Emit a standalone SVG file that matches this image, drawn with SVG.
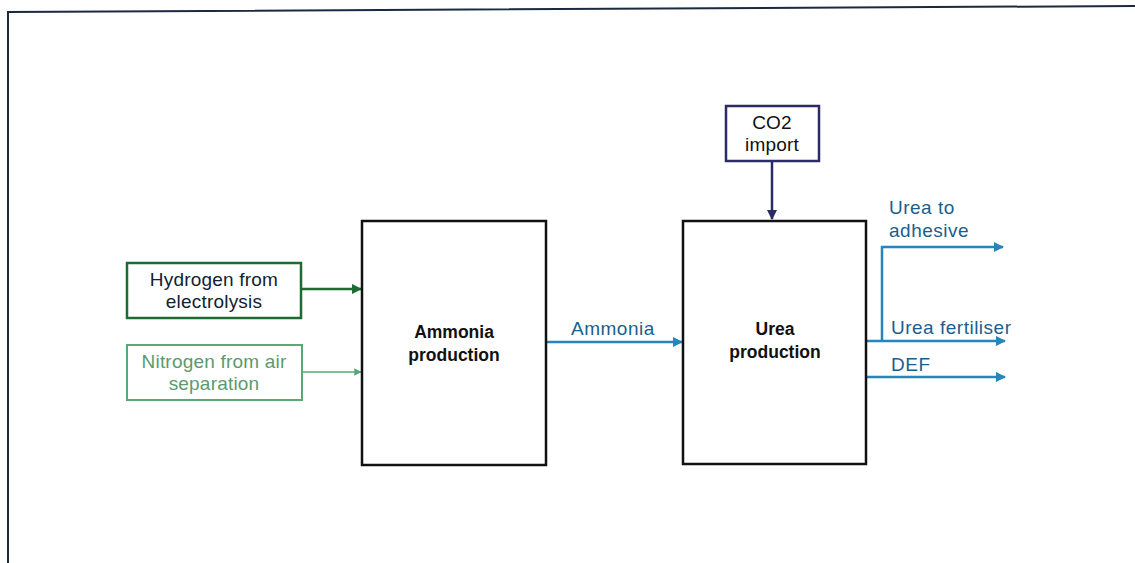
<svg xmlns="http://www.w3.org/2000/svg" width="1135" height="563" viewBox="0 0 1135 563">
<style>
text{font-family:"Liberation Sans",Arial,sans-serif;font-size:19px;text-anchor:middle;letter-spacing:0.2px}
.bold{font-weight:bold;font-size:17.5px;fill:#111;letter-spacing:0}
.lbl{fill:#1b5e8c;text-anchor:start;letter-spacing:0.5px}
.proc{fill:#fff;stroke:#111;stroke-width:2.5}
.blue{stroke:#2585bd;stroke-width:2.5;fill:none}
</style>
<defs>
<marker id="ab" viewBox="0 0 10 10" refX="9" refY="5" markerWidth="4" markerHeight="4" orient="auto"><path d="M0,0L10,5L0,10z" fill="#2585bd"/></marker>
<marker id="ag" viewBox="0 0 10 10" refX="9" refY="5" markerWidth="4" markerHeight="4" orient="auto"><path d="M0,0L10,5L0,10z" fill="#1d6b33"/></marker>
<marker id="al" viewBox="0 0 10 10" refX="9" refY="5" markerWidth="5" markerHeight="5" orient="auto"><path d="M0,0L10,5L0,10z" fill="#5aa878"/></marker>
<marker id="an" viewBox="0 0 10 10" refX="9" refY="5" markerWidth="4" markerHeight="4" orient="auto"><path d="M0,0L10,5L0,10z" fill="#2b2b66"/></marker>
</defs>
<rect width="1135" height="563" fill="#fff"/>
<g id="frame" fill="none" stroke="#1a2a40" stroke-width="2"><path d="M8,563V12L1135,6"/></g>
<g id="connectors">
<line x1="301" y1="289" x2="361" y2="289" stroke="#1d6b33" stroke-width="2.5" marker-end="url(#ag)"/>
<line x1="302" y1="372" x2="361" y2="372" stroke="#5aa878" stroke-width="1.5" marker-end="url(#al)"/>
<line x1="546" y1="342" x2="682" y2="342" class="blue" marker-end="url(#ab)"/>
<line x1="772" y1="161" x2="772" y2="219" stroke="#2b2b66" stroke-width="2.5" marker-end="url(#an)"/>
<line x1="866" y1="341" x2="1005" y2="341" class="blue" marker-end="url(#ab)"/>
<polyline points="882,341 882,247 1003,247" class="blue" marker-end="url(#ab)"/>
<line x1="866" y1="377" x2="1005" y2="377" class="blue" marker-end="url(#ab)"/>
<text class="lbl" x="571" y="335">Ammonia</text>
<text class="lbl" x="889" y="214">Urea to</text>
<text class="lbl" x="889" y="237">adhesive</text>
<text class="lbl" x="891" y="334">Urea fertiliser</text>
<text class="lbl" x="891" y="371">DEF</text>
</g>
<g id="hydrogen"><rect x="127" y="263" width="174" height="55" fill="#fff" stroke="#1d6b33" stroke-width="2.5"/><text x="214" y="286" fill="#123">Hydrogen from</text><text x="214" y="308" fill="#123">electrolysis</text></g>
<g id="nitrogen"><rect x="127" y="345" width="175" height="55" fill="#fff" stroke="#5aa878" stroke-width="2"/><text x="214" y="368" fill="#5a9a70">Nitrogen from air</text><text x="214" y="390" fill="#5a9a70">separation</text></g>
<g id="ammonia"><rect x="362" y="221" width="184" height="244" class="proc"/><text class="bold" x="454" y="338">Ammonia</text><text class="bold" x="454" y="361">production</text></g>
<g id="urea"><rect x="683" y="221" width="183" height="243" class="proc"/><text class="bold" x="775" y="335">Urea</text><text class="bold" x="775" y="358">production</text></g>
<g id="co2"><rect x="726" y="106" width="93" height="55" fill="#fff" stroke="#2b2b66" stroke-width="2.5"/><text x="772" y="129" fill="#111">CO2</text><text x="772" y="151" fill="#111">import</text></g>
</svg>
